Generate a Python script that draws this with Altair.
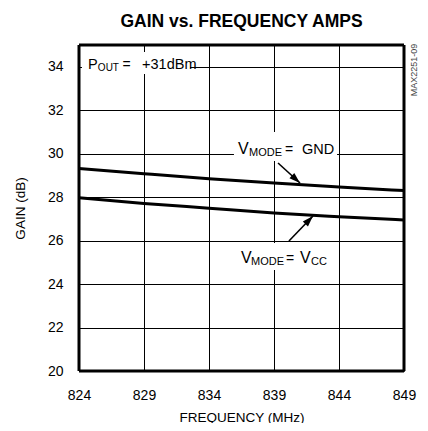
import math
import altair as alt
import pandas as pd

# ---- data ----
freq = [824, 829, 834, 839, 844, 849]
gain_gnd = [29.32, 29.08, 28.85, 28.65, 28.47, 28.30]
gain_vcc = [27.97, 27.71, 27.49, 27.27, 27.10, 26.95]
x_ticks = [824, 829, 834, 839, 844, 849]
y_ticks = [20, 22, 24, 26, 28, 30, 32, 34]

FONT = "Liberation Sans, Arial, sans-serif"

W, H = 325, 326
X0, X1, Y0, Y1 = 824, 849, 20, 35
PX_X = W / (X1 - X0)
PX_Y = H / (Y1 - Y0)

curves = pd.DataFrame(
    [{"f": f, "g": g, "s": "GND"} for f, g in zip(freq, gain_gnd)]
    + [{"f": f, "g": g, "s": "VCC"} for f, g in zip(freq, gain_vcc)]
)

frame_v = pd.DataFrame({"x": [X0, X1]})
frame_h = pd.DataFrame({"y": [Y0, Y1]})

# annotation layout (data units)
boxes = pd.DataFrame([
    {"x": 824.23, "x2": 832.54, "y": 34.68, "y2": 33.67},
    {"x": 835.92, "x2": 843.85, "y": 31.00, "y2": 29.66},
    {"x": 835.92, "x2": 843.85, "y": 25.89, "y2": 24.65},
])

texts = pd.DataFrame([
    {"x": 824.69, "y": 33.90, "t": "P", "sz": 14.5},
    {"x": 825.45, "y": 33.81, "t": "OUT", "sz": 10},
    {"x": 827.35, "y": 33.90, "t": "=", "sz": 14},
    {"x": 828.85, "y": 33.90, "t": "+31dBm", "sz": 14.5},
    {"x": 836.23, "y": 30.00, "t": "V", "sz": 16},
    {"x": 837.08, "y": 29.89, "t": "MODE", "sz": 11},
    {"x": 839.85, "y": 30.00, "t": "=", "sz": 14},
    {"x": 841.15, "y": 30.00, "t": "GND", "sz": 14.5},
    {"x": 836.46, "y": 24.97, "t": "V", "sz": 16},
    {"x": 837.23, "y": 24.86, "t": "MODE", "sz": 11},
    {"x": 839.92, "y": 24.97, "t": "=", "sz": 14},
    {"x": 841.00, "y": 24.97, "t": "V", "sz": 16},
    {"x": 841.85, "y": 24.86, "t": "CC", "sz": 11},
])

arrows = [
    {"x": 839.31, "y": 29.57, "x2": 841.00, "y2": 28.65},
    {"x": 840.15, "y": 25.98, "x2": 842.00, "y2": 27.13},
]
R = 5.5
heads = []
for a in arrows:
    dxp = (a["x2"] - a["x"]) * PX_X
    dyp = -(a["y2"] - a["y"]) * PX_Y
    L = math.hypot(dxp, dyp)
    ux, uy = dxp / L, dyp / L
    ang = math.degrees(math.atan2(ux, -uy)) % 360
    heads.append({
        "x": a["x2"] - ux * R / PX_X,
        "y": a["y2"] + uy * R / PX_Y,
        "ang": ang,
    })
arrows_df = pd.DataFrame(arrows)
heads_df = pd.DataFrame(heads)

xs = alt.Scale(domain=[X0, X1], nice=False, zero=False)
ys = alt.Scale(domain=[Y0, Y1], nice=False, zero=False)

base_x = alt.X("f:Q", scale=xs, axis=alt.Axis(
    values=x_ticks, title="FREQUENCY (MHz)", grid=True, gridColor="#000", gridWidth=1,
    gridOpacity=1, ticks=False, domain=False, labelFont=FONT, labelFontSize=14,
    labelColor="#000", labelPadding=17, labelFlush=False, titleFont=FONT, titleFontSize=13.5,
    titleFontWeight="normal", titleColor="#000", titlePadding=8))
base_y = alt.Y("g:Q", scale=ys, axis=alt.Axis(
    values=y_ticks, title="GAIN (dB)", grid=True, gridColor="#000", gridWidth=1,
    gridOpacity=1, ticks=False, domain=False, labelFont=FONT, labelFontSize=14,
    labelColor="#000", labelPadding=16, labelFlush=False, titleFont=FONT, titleFontSize=13.5,
    titleFontWeight="normal", titleColor="#000", titlePadding=20))

lines = alt.Chart(curves).mark_line(color="#000", strokeWidth=3, interpolate="monotone").encode(
    x=base_x, y=base_y, detail="s:N")

border_v = alt.Chart(frame_v).mark_rule(color="#000", strokeWidth=3).encode(
    x=alt.X("x:Q", scale=xs))
border_h = alt.Chart(frame_h).mark_rule(color="#000", strokeWidth=3).encode(
    y=alt.Y("y:Q", scale=ys))

rects = alt.Chart(boxes).mark_rect(color="white", opacity=1).encode(
    x=alt.X("x:Q", scale=xs), x2="x2", y=alt.Y("y:Q", scale=ys), y2="y2")

labels = alt.Chart(texts).mark_text(align="left", baseline="alphabetic", font=FONT, color="#000").encode(
    x=alt.X("x:Q", scale=xs), y=alt.Y("y:Q", scale=ys), text="t:N",
    size=alt.Size("sz:Q", scale=None, legend=None))

shafts = alt.Chart(arrows_df).mark_rule(color="#000", strokeWidth=1.6).encode(
    x=alt.X("x:Q", scale=xs), y=alt.Y("y:Q", scale=ys), x2="x2", y2="y2")

heads_m = alt.Chart(heads_df).mark_point(
    shape="M-0.65,1L0,-1L0.65,1Z", filled=True, color="#000", opacity=1, size=4 * R * R
).encode(x=alt.X("x:Q", scale=xs), y=alt.Y("y:Q", scale=ys), angle=alt.Angle("ang:Q", scale=None))

side = alt.Chart(pd.DataFrame([{"x": 849.75, "y": 33.85, "t": "MAX2251-09"}])).mark_text(
    angle=270, font=FONT, fontSize=9, color="#444", align="center", baseline="middle", clip=False
).encode(x=alt.X("x:Q", scale=xs), y=alt.Y("y:Q", scale=ys), text="t:N")

chart = alt.layer(lines, rects, labels, shafts, heads_m, border_v, border_h, side).properties(
    width=W, height=H,
    title=alt.TitleParams("GAIN vs. FREQUENCY AMPS", font=FONT, fontSize=17.5, fontWeight="bold",
                          color="#000", anchor="middle", offset=13),
    autosize=alt.AutoSizeParams(type="none"),
    padding={"left": 71, "top": 37, "right": 16, "bottom": 52},
).configure(background="white").configure_view(strokeWidth=0)

chart.save("out.html", embed_options={"renderer": "svg", "actions": False})
